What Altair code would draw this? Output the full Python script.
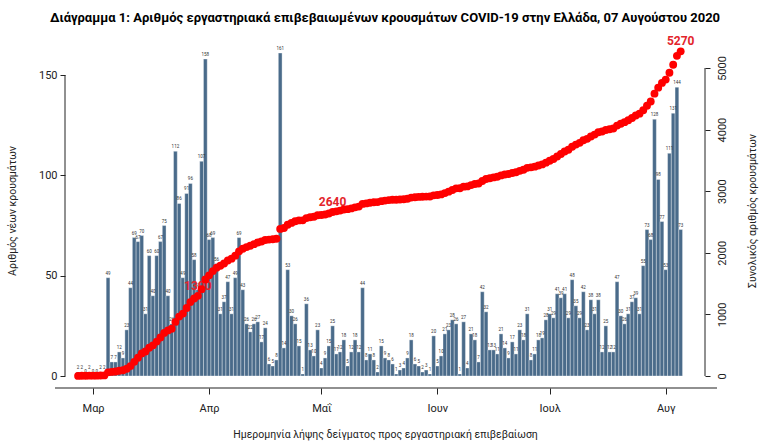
import altair as alt
import pandas as pd
import numpy as np

# ---- data ----
start_date = "2020-02-26"
daily_cases = [
    2, 2, 0, 2, 0, 0, 2, 2,
    49, 7, 7, 12, 9, 23, 44, 69, 67, 70, 31, 60, 40, 60, 67, 75, 40, 26,
    112, 86, 49, 91, 96, 58, 43, 107, 158, 68, 69, 56, 31, 37, 47, 31, 49, 69, 43, 26,
    22, 26, 27, 17, 24, 6, 5, 8,
    161, 14, 53, 30, 26, 15, 1, 36, 13, 10, 23, 4, 9, 15, 25, 11, 12, 18, 5, 12, 18,
    12, 44, 8, 11,
    8, 2, 15, 9, 8, 6, 1, 3, 4, 9, 18, 6, 5, 2, 3, 1, 20, 5, 10, 21, 23, 28, 26, 1, 27,
    4, 21, 18, 7, 42, 32, 13, 13, 11, 21, 14, 9, 17, 11, 23, 18, 31, 8, 11, 18, 19, 28,
    31, 29, 41, 39, 41, 29, 48, 35, 29, 42, 23, 38, 31, 38, 12, 25, 12, 12, 47, 30, 26,
    31, 37, 39, 31, 55, 73, 68, 128, 98, 77, 53, 111, 131, 144, 73,
]
month_names = {2: "Μαρ", 3: "Απρ", 4: "Μαΐ", 5: "Ιουν", 6: "Ιουλ", 7: "Αυγ"}
tick_dates = ["2020-03-01", "2020-04-01", "2020-05-01", "2020-06-01", "2020-07-01", "2020-08-01"]
label_texts = ["1300", "2640", "5270"]
label_day_index = [32, 68, 161]
label_level = [1466, 2825, 5438]

title_text = ("Διάγραμμα 1: Αριθμός εργαστηριακά επιβεβαιωμένων κρουσμάτων "
              "COVID-19 στην Ελλάδα, 07 Αυγούστου 2020")
x_title = "Ημερομηνία λήψης δείγματος προς εργαστηριακή επιβεβαίωση"
y_left_title = "Αριθμός νέων κρουσμάτων"
y_right_title = "Συνολικός αριθμός κρουσμάτων"

# ---- tables ----
base = pd.Timestamp(start_date)
fmt = lambda t: t.strftime("%Y-%m-%dT%H:%M:%SZ")
ms = lambda t: int((t - pd.Timestamp("1970-01-01")) / pd.Timedelta(milliseconds=1))
days = [base + pd.Timedelta(days=i) for i in range(len(daily_cases))]
df = pd.DataFrame({
    "start": [fmt(d) for d in days],
    "end": [fmt(d + pd.Timedelta(days=1)) for d in days],
    "mid": [fmt(d + pd.Timedelta(hours=12)) for d in days],
    "cases": daily_cases,
    "zero": [0] * len(daily_cases),
    "cum": np.cumsum(daily_cases),
})
labels_df = pd.DataFrame({
    "text": label_texts,
    "mid": [fmt(base + pd.Timedelta(days=i, hours=12)) for i in label_day_index],
    "level": label_level,
})
left_line_df = pd.DataFrame({"lo": [0], "hi": [150]})
right_line_df = pd.DataFrame({"lo": [0], "hi": [5000]})

FONT = "Roboto"
BAR_COLOR = "#4a6b8a"
INK = "#222222"
W, H = 640, 331

x_domain = [ms(pd.Timestamp("2020-02-23")), ms(pd.Timestamp("2020-08-12"))]
x_scale = alt.Scale(type="utc", domain=x_domain)
left_scale = alt.Scale(domain=[0, 165], nice=False, zero=True)
right_scale = alt.Scale(domain=[0, 5373], nice=False, zero=True)

tick_values = [ms(pd.Timestamp(t) + pd.Timedelta(hours=12)) for t in tick_dates]
label_expr = "".join(
    "utcmonth(datum.value)==%d?'%s':" % (k, v) for k, v in month_names.items()
) + "''"

x_axis = alt.Axis(
    values=tick_values, labelExpr=label_expr,
    domain=False, grid=False, ticks=True, tickSize=6, tickColor=INK, offset=12,
    labelPadding=8, labelFont=FONT, labelFontSize=11, labelColor=INK,
    title=x_title, titleFont=FONT, titleFontSize=10.5, titleFontWeight="normal",
    titleColor=INK, titlePadding=16, orient="bottom",
)
left_axis = alt.Axis(
    orient="left", values=[0, 50, 100, 150], domain=False, grid=False, tickSize=5,
    tickColor=INK, labelFont=FONT, labelFontSize=11, labelColor=INK, labelPadding=3,
    title=y_left_title, titleFont=FONT, titleFontSize=10.5, titleFontWeight="normal",
    titleColor=INK, titlePadding=21,
)
right_axis = alt.Axis(
    orient="right", values=[0, 1000, 2000, 3000, 4000, 5000], format="d",
    domain=False, grid=False,
    tickSize=5, tickColor=INK, labelFont=FONT, labelFontSize=11, labelColor=INK,
    labelAngle=270, labelAlign="center", labelBaseline="top", labelPadding=6,
    title=y_right_title, titleFont=FONT, titleFontSize=10.5, titleFontWeight="normal",
    titleColor=INK, titleAngle=270, titlePadding=30,
)

bars = alt.Chart(df).mark_bar(color=BAR_COLOR, stroke="white", strokeWidth=0.35).encode(
    x=alt.X("start:T", scale=x_scale, axis=x_axis),
    x2="end:T",
    y=alt.Y("cases:Q", scale=left_scale, axis=left_axis),
    y2="zero:Q",
)
bar_text = alt.Chart(df).mark_text(
    fontSize=4.5, font=FONT, color="#333", dy=-4, baseline="middle"
).encode(
    x=alt.X("mid:T", scale=x_scale, axis=x_axis),
    y=alt.Y("cases:Q", scale=left_scale, axis=None),
    text="cases:Q",
)
left_line = alt.Chart(left_line_df).mark_rule(color=INK, strokeWidth=1).encode(
    x=alt.value(0),
    y=alt.Y("lo:Q", scale=left_scale, axis=None),
    y2="hi:Q",
)
x_line = alt.Chart(left_line_df).mark_rule(color=INK, strokeWidth=1.2).encode(
    x=alt.value(-10), x2=alt.value(W + 12), y=alt.value(H + 12)
)
red_labels = alt.Chart(labels_df).mark_text(
    font=FONT, fontSize=12, fontWeight="bold", color="#e3242b", baseline="middle"
).encode(
    x=alt.X("mid:T", scale=x_scale, axis=x_axis),
    y=alt.Y("level:Q", scale=right_scale, axis=None),
    text="text:N",
)
points = alt.Chart(df).mark_circle(size=62, color="#ff0000", opacity=1).encode(
    x=alt.X("mid:T", scale=x_scale, axis=x_axis),
    y=alt.Y("cum:Q", scale=right_scale, axis=right_axis),
)
right_line = alt.Chart(right_line_df).mark_rule(color=INK, strokeWidth=1).encode(
    x=alt.value(W),
    y=alt.Y("lo:Q", scale=right_scale, axis=None),
    y2="hi:Q",
)

chart = alt.layer(
    bars, bar_text, left_line, x_line, red_labels, points, right_line
).resolve_scale(y="independent").properties(
    width=W, height=H,
    title=alt.TitleParams(text=title_text, font=FONT, fontSize=13, fontWeight="bold",
                          anchor="middle", color="black", offset=10),
    autosize=alt.AutoSizeParams(type="none"),
    padding={"left": 65, "top": 45, "right": 65, "bottom": 71},
    background="white",
).configure_view(stroke=None)

chart.save("out.html", embed_options={"renderer": "svg", "actions": False})
